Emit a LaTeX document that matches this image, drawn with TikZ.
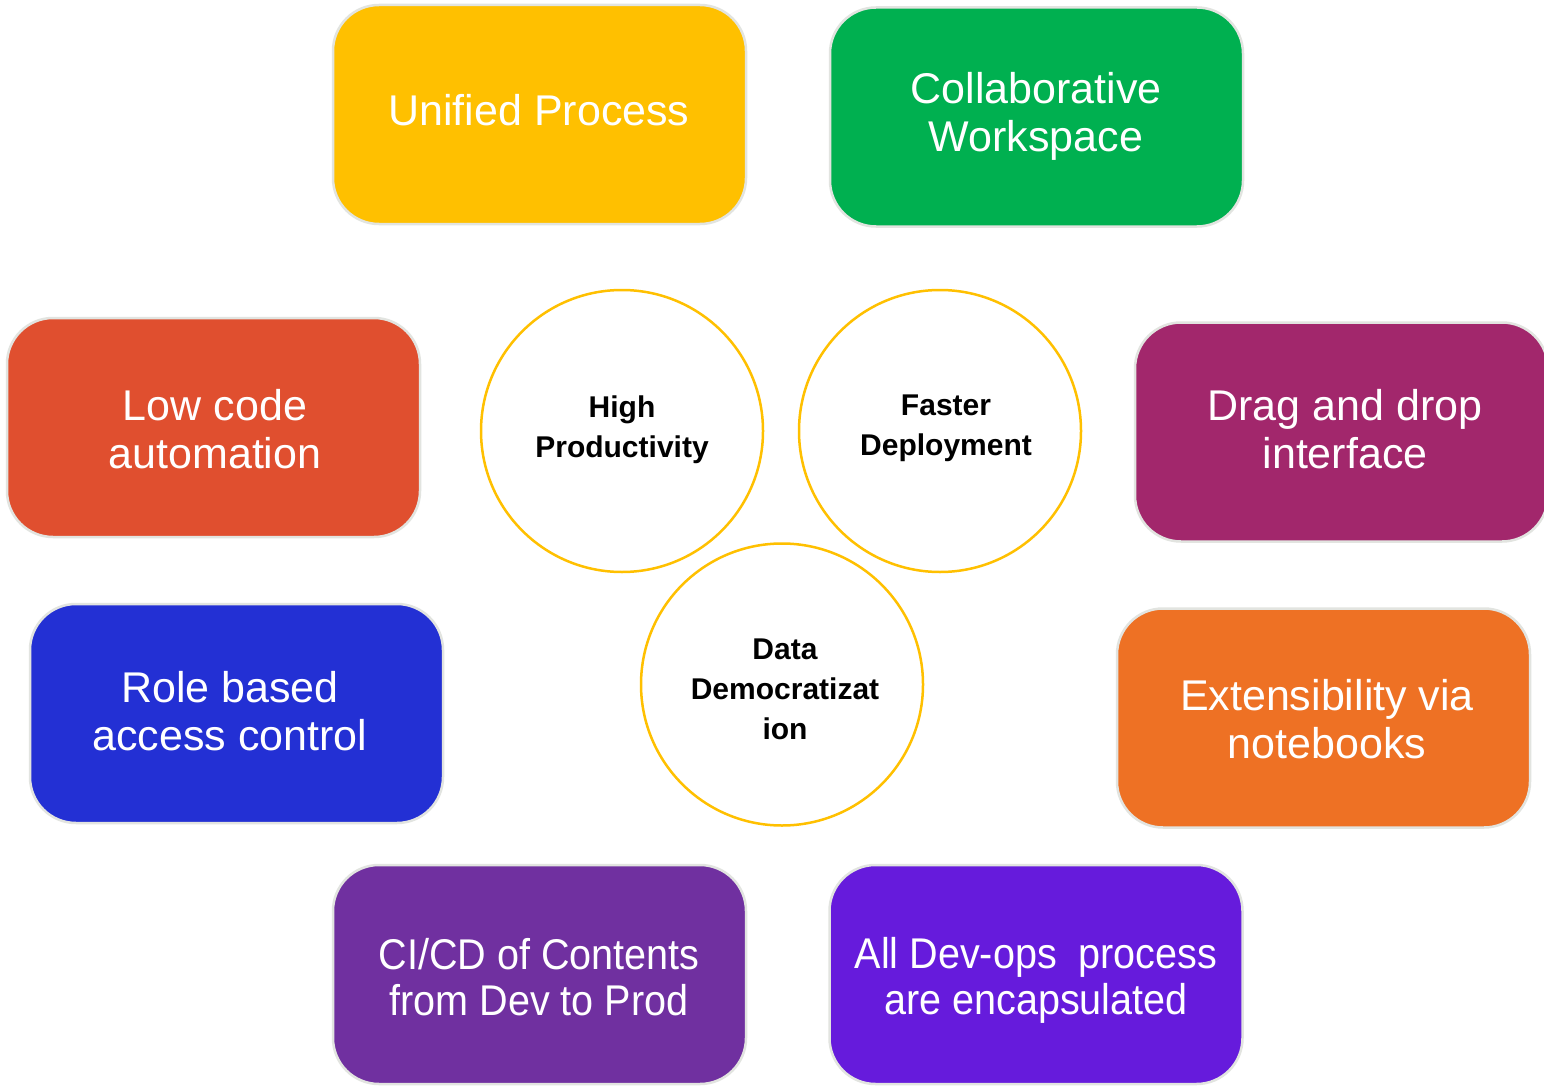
\documentclass[tikz,border=0pt]{standalone}
\usepackage{fontspec}
\setmainfont{Liberation Sans}
\newfontfamily\boxfont{Liberation Sans}
\newfontfamily\condfont{Liberation Sans}[FakeStretch=0.92]
\definecolor{cyellow}{HTML}{FFC000}
\definecolor{cgreen}{HTML}{00B050}
\definecolor{cred}{HTML}{E04F2F}
\definecolor{cmagenta}{HTML}{A2276C}
\definecolor{cblue}{HTML}{2330D4}
\definecolor{corange}{HTML}{EE7124}
\definecolor{cpurple}{HTML}{7030A0}
\definecolor{cviolet}{HTML}{661BDC}
\definecolor{cborder}{HTML}{E2E4E0}
\begin{document}
\begin{tikzpicture}[x=1pt,y=-1pt,
  featbox/.style={rectangle, rounded corners=46pt, draw=cborder, line width=2.5pt,
    minimum width=413pt, minimum height=219pt, inner sep=0pt},
  boxtext/.style={align=center, inner sep=0pt, text=white,
    font=\boxfont\fontsize{43}{48}\selectfont},
  condtext/.style={boxtext, font=\condfont\fontsize{43}{46}\selectfont},
  benefit/.style={circle, draw=cyellow, line width=2.5pt, fill=white,
    minimum size=282pt, inner sep=0pt},
  bentext/.style={align=center, inner sep=0pt,
    font=\boxfont\bfseries\fontsize{30}{40}\selectfont}]
\useasboundingbox (0,0) rectangle (1544,1086);
\clip (0,0) rectangle (1544,1086);
\fill[white] (0,0) rectangle (1544,1086);

\node[featbox, fill=cyellow] (unified) at (539.5,114.5) {};
\node[featbox, fill=cgreen] (collab) at (1036.5,117) {};
\node[featbox, fill=cred] (lowcode) at (213.5,427.5) {};
\node[featbox, fill=cmagenta] (dragdrop) at (1341.5,432) {};
\node[featbox, fill=cblue] (role) at (236.5,713.5) {};
\node[featbox, fill=corange] (extens) at (1323.5,718) {};
\node[featbox, fill=cpurple] (cicd) at (539.5,974.5) {};
\node[featbox, fill=cviolet] (devops) at (1036,974.5) {};

\node[boxtext] (unifiedT) at (539,110) {Unified Process};
\node[boxtext] (collabT) at (1036,116) {Collaborative\\Workspace};
\node[boxtext] (lowcodeT) at (215,429) {Low code\\automation};
\node[boxtext] (dragdropT) at (1345,429) {Drag and drop\\interface};
\node[boxtext] (roleT) at (230,711) {Role based\\access control};
\node[boxtext] (extensT) at (1327,719) {Extensibility via\\notebooks};
\node[condtext] (cicdT) at (539,977) {CI/CD of Contents\\from Dev to Prod};
\node[condtext] (devopsT) at (1036,980) {All Dev-ops\ \ process\\are encapsulated};

\node[benefit] (highprod) at (622,431) {};
\node[benefit] (faster) at (940,431) {};
\node[benefit] (datadem) at (782,684.5) {};
\node[bentext] (highprodT) at (622,430) {High\\Productivity};
\node[bentext] (fasterT) at (946,428) {Faster\\Deployment};
\node[bentext] (datademT) at (785,689) {Data\\Democratizat\\ion};
\end{tikzpicture}
\end{document}
